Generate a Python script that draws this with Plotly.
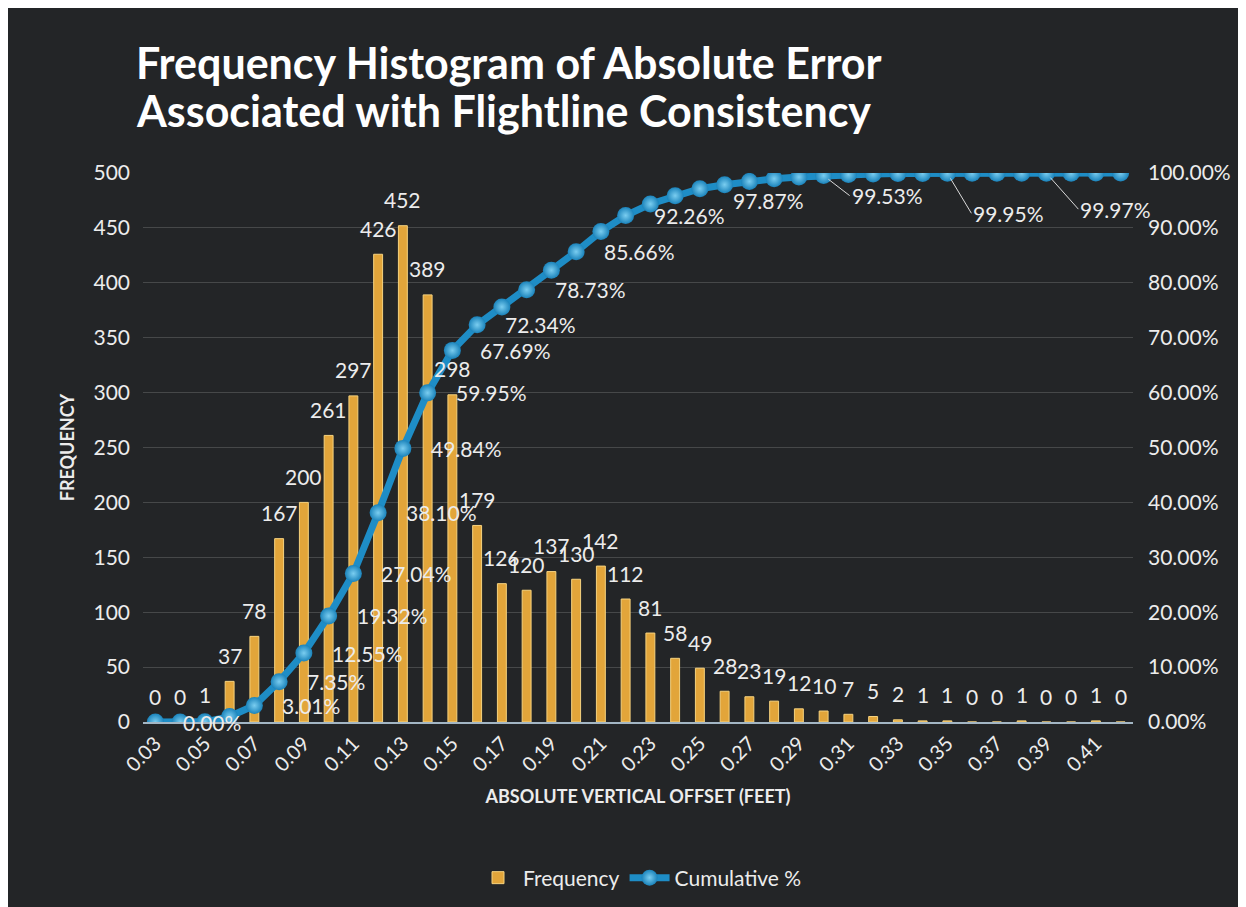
import plotly.graph_objects as go

categories = ["0.03", "0.04", "0.05", "0.06", "0.07", "0.08", "0.09", "0.10", "0.11", "0.12",
              "0.13", "0.14", "0.15", "0.16", "0.17", "0.18", "0.19", "0.20", "0.21", "0.22",
              "0.23", "0.24", "0.25", "0.26", "0.27", "0.28", "0.29", "0.30", "0.31", "0.32",
              "0.33", "0.34", "0.35", "0.36", "0.37", "0.38", "0.39", "0.40", "0.41", "0.42"]
frequency = [0, 0, 1, 37, 78, 167, 200, 261, 297, 426,
             452, 389, 298, 179, 126, 120, 137, 130, 142, 112,
             81, 58, 49, 28, 23, 19, 12, 10, 7, 5,
             2, 1, 1, 0, 0, 1, 0, 0, 1, 0]
cumulative_pct = [0.00, 0.00, 0.03, 0.99, 3.01, 7.35, 12.55, 19.32, 27.04, 38.10,
                  49.84, 59.95, 67.69, 72.34, 75.61, 78.73, 82.29, 85.66, 89.35, 92.26,
                  94.36, 95.87, 97.14, 97.87, 98.47, 98.96, 99.27, 99.53, 99.71, 99.84,
                  99.90, 99.92, 99.95, 99.95, 99.95, 99.97, 99.97, 99.97, 100.00, 100.00]
tick_labels = ["0.03", "0.05", "0.07", "0.09", "0.11", "0.13", "0.15", "0.17", "0.19", "0.21",
               "0.23", "0.25", "0.27", "0.29", "0.31", "0.33", "0.35", "0.37", "0.39", "0.41"]
title_lines = ["Frequency Histogram of Absolute Error", "Associated with Flightline Consistency"]

# which cumulative points carry a visible label
labeled_points = ["0.03", "0.07", "0.08", "0.09", "0.10", "0.11", "0.12", "0.13", "0.14",
                  "0.15", "0.16", "0.18", "0.20", "0.22", "0.26", "0.30", "0.35", "0.39"]

# style: label offsets (pixels) for the cumulative labels
default_shift = (26, 0)
special_shift = {"0.26": (6, -16)}
leader_offsets = {"0.30": (26, 20), "0.35": (24, 40), "0.39": (32, 36)}

FONT = "Lato"
TXT = "#ECECEC"
GOLD = "#E2A53A"
BLUE = "#1E8DC6"

fig = go.Figure()

fig.add_trace(go.Bar(
    x=categories, y=frequency, name="Frequency",
    marker=dict(color=GOLD, line=dict(color="#F6D27E", width=1)),
    width=0.36, yaxis="y",
))

fig.add_trace(go.Scatter(
    x=categories, y=cumulative_pct, name="Cumulative %", yaxis="y2",
    mode="lines+markers",
    line=dict(color=BLUE, width=7),
    marker=dict(size=17, color="#1A83BB",
                gradient=dict(type="radial", color="#7ACDF0")),
))

annotations = []
for i, v in enumerate(frequency):
    annotations.append(dict(
        x=i, y=v, xref="x", yref="y", text=str(v), showarrow=False,
        yshift=26, font=dict(family=FONT, size=21, color=TXT),
    ))

for i, (c, v) in enumerate(zip(categories, cumulative_pct)):
    if c not in labeled_points:
        continue
    txt = f"{v:.2f}%"
    if c in leader_offsets:
        ax, ay = leader_offsets[c]
        annotations.append(dict(
            x=i, y=v, xref="x", yref="y2", text=txt, showarrow=True,
            arrowhead=0, arrowwidth=1, arrowcolor="#DADADA",
            ax=ax, ay=ay, axref="pixel", ayref="pixel", xanchor="left",
            standoff=6, font=dict(family=FONT, size=21, color=TXT),
        ))
    else:
        xs, ys = special_shift.get(c, default_shift)
        annotations.append(dict(
            x=i, y=v, xref="x", yref="y2", text=txt, showarrow=False,
            xanchor="left", xshift=xs, yshift=ys,
            font=dict(family=FONT, size=21, color=TXT),
        ))

# title lines (paper coords: plot area spans x 135..1125 px, y 165..714 px)
for line, py in zip(title_lines, [55, 102]):
    annotations.append(dict(
        x=(126 - 135) / 990, y=(714 - py) / 549, xref="paper", yref="paper",
        xanchor="left", yanchor="middle", showarrow=False, text=f"<b>{line}</b>",
        font=dict(family=FONT, size=43, color="#FFFFFF"),
    ))

fig.update_layout(
    width=1246, height=907,
    paper_bgcolor="#232527", plot_bgcolor="rgba(0,0,0,0)",
    margin=dict(l=135, r=121, t=165, b=193),
    xaxis=dict(
        type="category", range=[-0.5, 39.5],
        tickmode="array", tickvals=tick_labels, ticktext=tick_labels,
        tickangle=-45, tickfont=dict(family=FONT, size=20, color=TXT),
        showgrid=False, showline=True, linecolor="#A3B6C4", linewidth=2,
        ticks="", title=dict(text="<b>ABSOLUTE VERTICAL OFFSET (FEET)</b>",
                             font=dict(family=FONT, size=18, color=TXT), standoff=16),
    ),
    yaxis=dict(
        range=[0, 500], dtick=50, showgrid=True, gridcolor="rgba(255,255,255,0.16)",
        gridwidth=1, zeroline=False, tickfont=dict(family=FONT, size=21, color=TXT),
        ticklabelstandoff=12,
        title=dict(text="<b>FREQUENCY</b>", font=dict(family=FONT, size=18, color=TXT),
                   standoff=14),
    ),
    yaxis2=dict(
        range=[0, 100], dtick=10, overlaying="y", side="right", showgrid=False,
        zeroline=False, tickformat=".2f", ticksuffix="%",
        tickfont=dict(family=FONT, size=21, color=TXT), ticklabelstandoff=14,
    ),
    legend=dict(
        orientation="h", x=632 / 1246, xref="container", xanchor="center",
        y=37 / 907, yref="container", yanchor="middle",
        font=dict(family=FONT, size=21, color=TXT), bgcolor="rgba(0,0,0,0)",
        itemwidth=40,
    ),
    annotations=annotations,
    bargap=0.6,
)

fig.write_html("out.html")
